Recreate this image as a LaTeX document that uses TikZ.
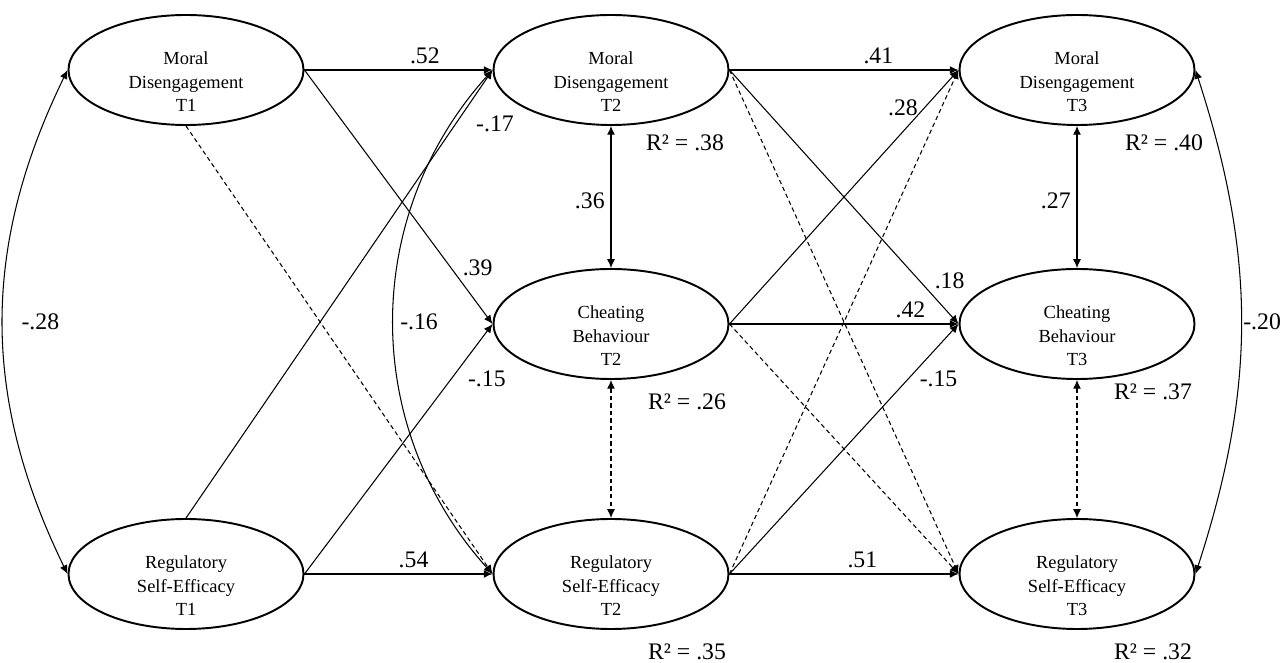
\documentclass[tikz,border=0pt]{standalone}
\usepackage{fontspec}
\setmainfont{Liberation Serif}
\usetikzlibrary{shapes.geometric,arrows.meta}

\tikzset{
  var/.style={ellipse, draw, line width=1.1pt, minimum width=4.7cm, minimum height=2.2cm, inner sep=0pt},
  vartext/.style={align=center, font=\fontsize{10.5}{13.4}\selectfont, yshift=-0.24cm},
  reg/.style={-{Latex[length=5pt,width=4.5pt]}, line width=0.6pt},
  ns/.style={reg, dash pattern=on 2.5pt off 1.8pt},
  cov/.style={{Latex[length=5pt,width=4.5pt]}-{Latex[length=5pt,width=4.5pt]}, line width=0.6pt},
  nscov/.style={cov, dash pattern=on 2.5pt off 1.8pt},
  coef/.style={font=\fontsize{13.5}{16}\selectfont},
  rsq/.style={font=\fontsize{13.5}{16}\selectfont}
}

\begin{document}
\begin{tikzpicture}
\useasboundingbox (0,0) rectangle (25.62,-13.26);

% latent variables
\node[var, label={[vartext]center:Moral\\Disengagement\\T1}] (md1) at (3.72,-1.40) {};
\node[var, label={[vartext]center:Moral\\Disengagement\\T2}] (md2) at (12.22,-1.40) {};
\node[var, label={[vartext]center:Moral\\Disengagement\\T3}] (md3) at (21.54,-1.40) {};
\node[var, label={[vartext]center:Cheating\\Behaviour\\T2}] (cb2) at (12.22,-6.48) {};
\node[var, label={[vartext]center:Cheating\\Behaviour\\T3}] (cb3) at (21.54,-6.48) {};
\node[var, label={[vartext]center:Regulatory\\Self-Efficacy\\T1}] (rse1) at (3.72,-11.48) {};
\node[var, label={[vartext]center:Regulatory\\Self-Efficacy\\T2}] (rse2) at (12.22,-11.48) {};
\node[var, label={[vartext]center:Regulatory\\Self-Efficacy\\T3}] (rse3) at (21.54,-11.48) {};

% explained variance
\node[rsq] (r2md2) at (13.70,-2.86) {R² = .38};
\node[rsq] (r2md3) at (23.28,-2.86) {R² = .40};
\node[rsq] (r2cb2) at (13.74,-8.04) {R² = .26};
\node[rsq] (r2cb3) at (23.06,-7.84) {R² = .37};
\node[rsq] (r2rse2) at (13.74,-13.04) {R² = .35};
\node[rsq] (r2rse3) at (23.06,-13.04) {R² = .32};

% T1 -> T2
\draw[reg] (md1.east) to node[coef, pos=0.64, above] {.52} (md2.west);
\draw[reg] (md1.east) to node[coef, pos=0.78, right=3pt] {.39} (cb2.west);
\draw[ns] (md1.south) to (rse2.west);
\draw[reg] (rse1.north) to node[coef, pos=0.88, right=8pt] {-.17} (md2.west);
\draw[reg] (rse1.east) to node[coef, pos=0.78, right=6pt] {-.15} (cb2.west);
\draw[reg] (rse1.east) to node[coef, pos=0.58, above] {.54} (rse2.west);

% T2 -> T3
\draw[reg] (md2.east) to node[coef, pos=0.65, above] {.41} (md3.west);
\draw[reg] (md2.east) to node[coef, pos=0.83, right=5pt] {.18} (cb3.west);
\draw[ns] (md2.east) to (rse3.west);
\draw[reg] (cb2.east) to node[coef, pos=0.85, left] {.28} (md3.west);
\draw[reg] (cb2.east) to node[coef, pos=0.79, above] {.42} (cb3.west);
\draw[ns] (cb2.east) to (rse3.west);
\draw[ns] (rse2.east) to (md3.west);
\draw[reg] (rse2.east) to node[coef, pos=0.78, right=3pt] {-.15} (cb3.west);
\draw[reg] (rse2.east) to node[coef, pos=0.58, above] {.51} (rse3.west);

% covariances
\draw[cov] (md1.west) to[bend right=26] node[coef, pos=0.5, right=7pt] {-.28} (rse1.west);
\draw[cov] (md2.west) to[bend right=42] node[coef, pos=0.5, right] {-.16} (rse2.west);
\draw[cov] (md3.east) to[bend left=18] node[coef, pos=0.5, right, inner sep=1pt] {-.20} (rse3.east);
\draw[cov] (md2.south) to node[coef, pos=0.53, left] {.36} (cb2.north);
\draw[nscov] (cb2.south) to (rse2.north);
\draw[cov] (md3.south) to node[coef, pos=0.53, left] {.27} (cb3.north);
\draw[nscov] (cb3.south) to (rse3.north);
\end{tikzpicture}
\end{document}
